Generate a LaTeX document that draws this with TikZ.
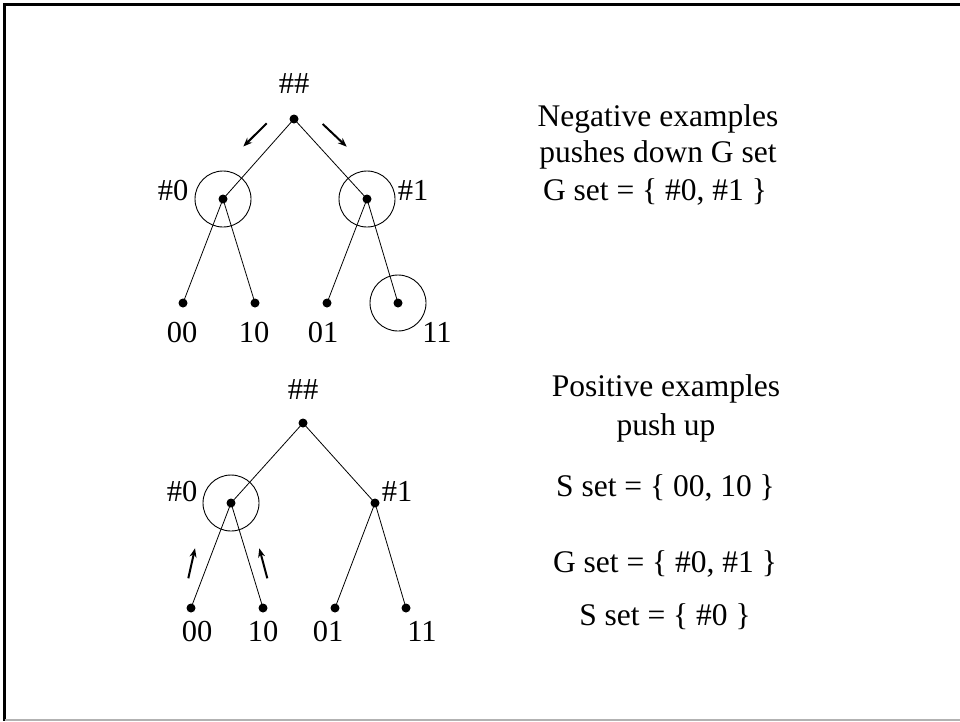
\documentclass[tikz,border=0pt]{standalone}
\usepackage{fontspec}
\setmainfont{Liberation Serif}
\usetikzlibrary{positioning,arrows.meta}
\tikzset{
  dot/.style={circle,fill,inner sep=0pt,minimum size=9pt},
  ring/.style={circle,draw,line width=0.9pt,inner sep=0pt,minimum size=56pt},
  lab/.style={anchor=base,inner sep=0pt,font=\fontsize{30.5}{31}\selectfont},
  txt/.style={anchor=base,inner sep=0pt,font=\fontsize{31.5}{32}\selectfont},
  edge/.style={line width=0.8pt},
  push/.style={-{Stealth[length=9pt,width=7pt]},line width=2pt}
}
\begin{document}
\begin{tikzpicture}[x=1pt,y=-1pt]
  \useasboundingbox (0,0) rectangle (960,721);
  % frame
  \draw[line width=3pt] (3,4.5)--(960,4.5);
  \draw[line width=3pt] (4.5,3)--(4.5,721);
  \draw[gray!60,line width=1.5pt] (4.5,720)--(960,720);
  % negative examples: G set
  \node[dot] (gr) at (294,119){};
  \node[dot] (ga) at (223,199){};
  \node[dot] (gb) at (367,199){};
  \node[dot] (gaa) at (183,303){};
  \node[dot] (gab) at (255,303){};
  \node[dot] (gba) at (327,303){};
  \node[dot] (gbb) at (398,303){};
  \draw[edge] (gr.center)--(ga.center) (gr.center)--(gb.center);
  \draw[edge] (ga.center)--(gaa.center) (ga.center)--(gab.center);
  \draw[edge] (gb.center)--(gba.center) (gb.center)--(gbb.center);
  \node[ring] (gca) at (ga){};
  \node[ring] (gcb) at (gb){};
  \node[ring] (gcbb) at (gbb){};
  \node[lab] (lgr) at (294,93.5){\#\#};
  \node[lab] (lga) at (173,200){\#0};
  \node[lab] (lgb) at (413,200){\#1};
  \node[lab] (lgaa) at (182,342){00};
  \node[lab] (lgab) at (254,342){10};
  \node[lab] (lgba) at (323,342){01};
  \node[lab] (lgbb) at (437,342.5){11};
  \coordinate (gp1) at (266.7,123.3);
  \coordinate (gq1) at (243.3,146.5);
  \coordinate (gp2) at (322.7,124);
  \coordinate (gq2) at (346.7,146.7);
  \draw[push] (gp1)--(gq1);
  \draw[push] (gp2)--(gq2);
  \node[txt] (gt1) at (658,126.7){Negative examples};
  \node[txt] (gt2) at (658,162.7){pushes down G set};
  \node[txt] (gt3) at (655,200){G set = \{ \#0, \#1 \}};
  % positive examples: S set
  \node[dot] (sr) at (303,423){};
  \node[dot] (sa) at (231,503){};
  \node[dot] (sb) at (375,503){};
  \node[dot] (saa) at (191,608){};
  \node[dot] (sab) at (263,608){};
  \node[dot] (sba) at (335,608){};
  \node[dot] (sbb) at (406,608){};
  \draw[edge] (sr.center)--(sa.center) (sr.center)--(sb.center);
  \draw[edge] (sa.center)--(saa.center) (sa.center)--(sab.center);
  \draw[edge] (sb.center)--(sba.center) (sb.center)--(sbb.center);
  \node[ring] (sca) at (sa){};
  \node[lab] (lsr) at (303,399){\#\#};
  \node[lab] (lsa) at (182,501.7){\#0};
  \node[lab] (lsb) at (397,501.7){\#1};
  \node[lab] (lsaa) at (197,641.7){00};
  \node[lab] (lsab) at (263,641.7){10};
  \node[lab] (lsba) at (328,641.7){01};
  \node[lab] (lsbb) at (422,641.7){11};
  \coordinate (sp1) at (188.3,578.3);
  \coordinate (sq1) at (195,548.3);
  \coordinate (sp2) at (267.3,578.3);
  \coordinate (sq2) at (259.3,548.3);
  \draw[push] (sp1)--(sq1);
  \draw[push] (sp2)--(sq2);
  \node[txt] (st1) at (666,396.7){Positive examples};
  \node[txt] (st2) at (666,435){push up};
  \node[txt] (st3) at (665.5,496){S set = \{ 00, 10 \}};
  \node[txt] (st4) at (665,572.7){G set = \{ \#0, \#1 \}};
  \node[txt] (st5) at (665,625){S set = \{ \#0 \}};
\end{tikzpicture}
\end{document}
